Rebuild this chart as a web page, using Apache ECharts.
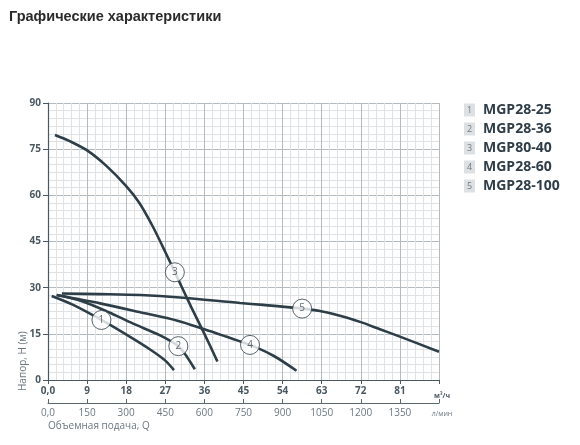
<!DOCTYPE html>
<html><head><meta charset="utf-8">
<script src="https://cdn.jsdelivr.net/npm/echarts@6/dist/echarts.min.js"></script>
<style>html,body{margin:0;padding:0;background:#fff}#c{width:580px;height:445px}</style>
</head><body><div id="c"></div>
<script>
const titleText = 'Графические характеристики';
const seriesNames = ['MGP28-25', 'MGP28-36', 'MGP80-40', 'MGP28-60', 'MGP28-100'];
const curve1 = [[0.85,27.3],[5.8,24.4],[12.3,19.5],[18.9,14],[23.5,9.9],[27,6.3],[29,3.2]];
const curve2 = [[2,27.6],[8,25.5],[14,22],[19.6,18.3],[25.8,14.5],[30,11],[32,7.5],[33.8,3.5]];
const curve3 = [[1.6,79.6],[5,77.6],[9,74.6],[13.5,69.5],[18,63],[21,57.6],[24,50.2],[27,41.6],[30,32.6],[33,23.6],[36,15],[39,6]];
const curve4 = [[2,27.6],[12,24.9],[21,22.1],[30,19.2],[36,16.5],[41,14.1],[46.5,11.4],[52,7.8],[57.2,3.0]];
const curve5 = [[3.2,28.1],[12,27.9],[21.2,27.6],[30.4,26.8],[44.2,25],[49.5,24.4],[58.5,23.2],[62.6,22.4],[67.2,20.9],[72,18.8],[76.4,16.5],[81,14.1],[90,9.2]];
const curves = [curve1, curve2, curve3, curve4, curve5];
const labelPoints = [[12.3,19.5],[30,11],[29.2,35],[46.5,11.4],[58.5,23.2]];
const xTicksM3 = {min:0, max:90, step:9};
const xTicksL = {min:0, max:1500, step:150};
const yTicks = {min:0, max:90, step:15};
const unitM3 = 'м³/ч';
const unitL = 'л/мин';
const xName = 'Объемная подача, Q';
const yName = 'Напор, Н (м)';

const lineColor = '#2e3e48';
const axisColor = '#4a5862';
const font = '"Open Sans", "DejaVu Sans", sans-serif';

const chart = echarts.init(document.getElementById('c'), null, {renderer:'canvas'});
const series = curves.map((d,i)=>({
  name: seriesNames[i], type:'line', data:d, smooth:0.3, symbol:'none',
  lineStyle:{color:lineColor, width:2.6}, z:3, silent:true
}));
series.push({
  type:'scatter', data: labelPoints.map((p,i)=>({value:p, num:i+1})), symbol:'circle', symbolSize:19,
  itemStyle:{color:'#fff', borderColor:lineColor, borderWidth:1}, z:5, silent:true,
  label:{show:true, position:'inside', formatter:(p)=>String(p.data.num), color:'#3a4850', fontSize:10, fontFamily:font}
});
const legendData = seriesNames.map((n)=>({name:n, icon:'none'}));

chart.setOption({
  backgroundColor:'#fff',
  animation:false,
  title:{text:titleText, left:9, top:9, padding:0, textStyle:{fontFamily:'"Liberation Sans", Arial, sans-serif', fontSize:14.5, fontWeight:'bold', color:'#2b2b2b'}},
  legend:{
    data: legendData, orient:'vertical', left:459, top:103, padding:0, itemGap:5, itemWidth:0, itemHeight:0,
    selectedMode:false,
    formatter:(name)=>'{n|'+(seriesNames.indexOf(name)+1)+'}{t|'+name+'}',
    textStyle:{
      rich:{
        n:{backgroundColor:'#dde1e4', color:'#6f7b83', width:11, height:13, align:'center', fontSize:9, fontFamily:font},
        t:{color:'#2e3d48', fontSize:14, fontWeight:'bold', fontFamily:font, padding:[0,0,0,8]}
      }
    }
  },
  graphic:[
    {type:'text', left:48, top:421, style:{text:xName, font:'10px '+font, fill:'#6b7880'}},
    {type:'text', x:18, y:391, rotation:Math.PI/2, style:{text:yName, font:'10px '+font, fill:'#6b7880', textAlign:'left', textVerticalAlign:'top'}}
  ],
  grid:{left:48, right:141, top:103, bottom:65, containLabel:false, outerBoundsMode:'none'},
  xAxis:[{
    type:'value', min:xTicksM3.min, max:xTicksM3.max, interval:xTicksM3.step, position:'bottom',
    axisLine:{show:true, lineStyle:{color:axisColor, width:1.2}},
    axisTick:{show:true, length:4, lineStyle:{color:axisColor}},
    axisLabel:{margin:6, fontFamily:font, fontSize:10, fontWeight:'bold', color:axisColor,
      formatter:(v)=> v===0 ? '0,0' : (v===xTicksM3.max ? '{u|'+unitM3+'}' : String(v)),
      rich:{u:{fontSize:7, fontWeight:'bold', color:axisColor, fontFamily:font, padding:[6,0,0,6]}}},
    splitLine:{show:true, lineStyle:{color:'#b3bbc0', width:1}},
    minorTick:{show:false, splitNumber:5},
    minorSplitLine:{show:true, lineStyle:{color:'#dfe3e6', width:1}}
  },{
    type:'value', min:xTicksL.min, max:xTicksL.max, interval:xTicksL.step, position:'bottom', offset:23,
    axisLine:{show:true, lineStyle:{color:'#5a6870', width:1}},
    axisTick:{show:true, inside:true, length:4, lineStyle:{color:'#5a6870'}},
    axisLabel:{margin:5, fontFamily:font, fontSize:10, color:'#6b7880',
      formatter:(v)=> v===0 ? '0,0' : (v===xTicksL.max ? '{u|'+unitL+'}' : String(v)),
      rich:{u:{fontSize:7, color:'#6b7880', fontFamily:font, padding:[2,0,0,6]}}},
    splitLine:{show:false}
  }],
  yAxis:{
    type:'value', min:yTicks.min, max:yTicks.max, interval:yTicks.step,
    axisLine:{show:true, lineStyle:{color:axisColor, width:1.2}},
    axisTick:{show:true, length:5, lineStyle:{color:axisColor}},
    axisLabel:{margin:7, fontFamily:font, fontSize:10, fontWeight:'bold', color:axisColor},
    splitLine:{show:true, lineStyle:{color:'#b3bbc0', width:1}},
    minorTick:{show:false, splitNumber:6},
    minorSplitLine:{show:true, lineStyle:{color:'#dfe3e6', width:1}}
  },
  series: series
});
</script></body></html>
